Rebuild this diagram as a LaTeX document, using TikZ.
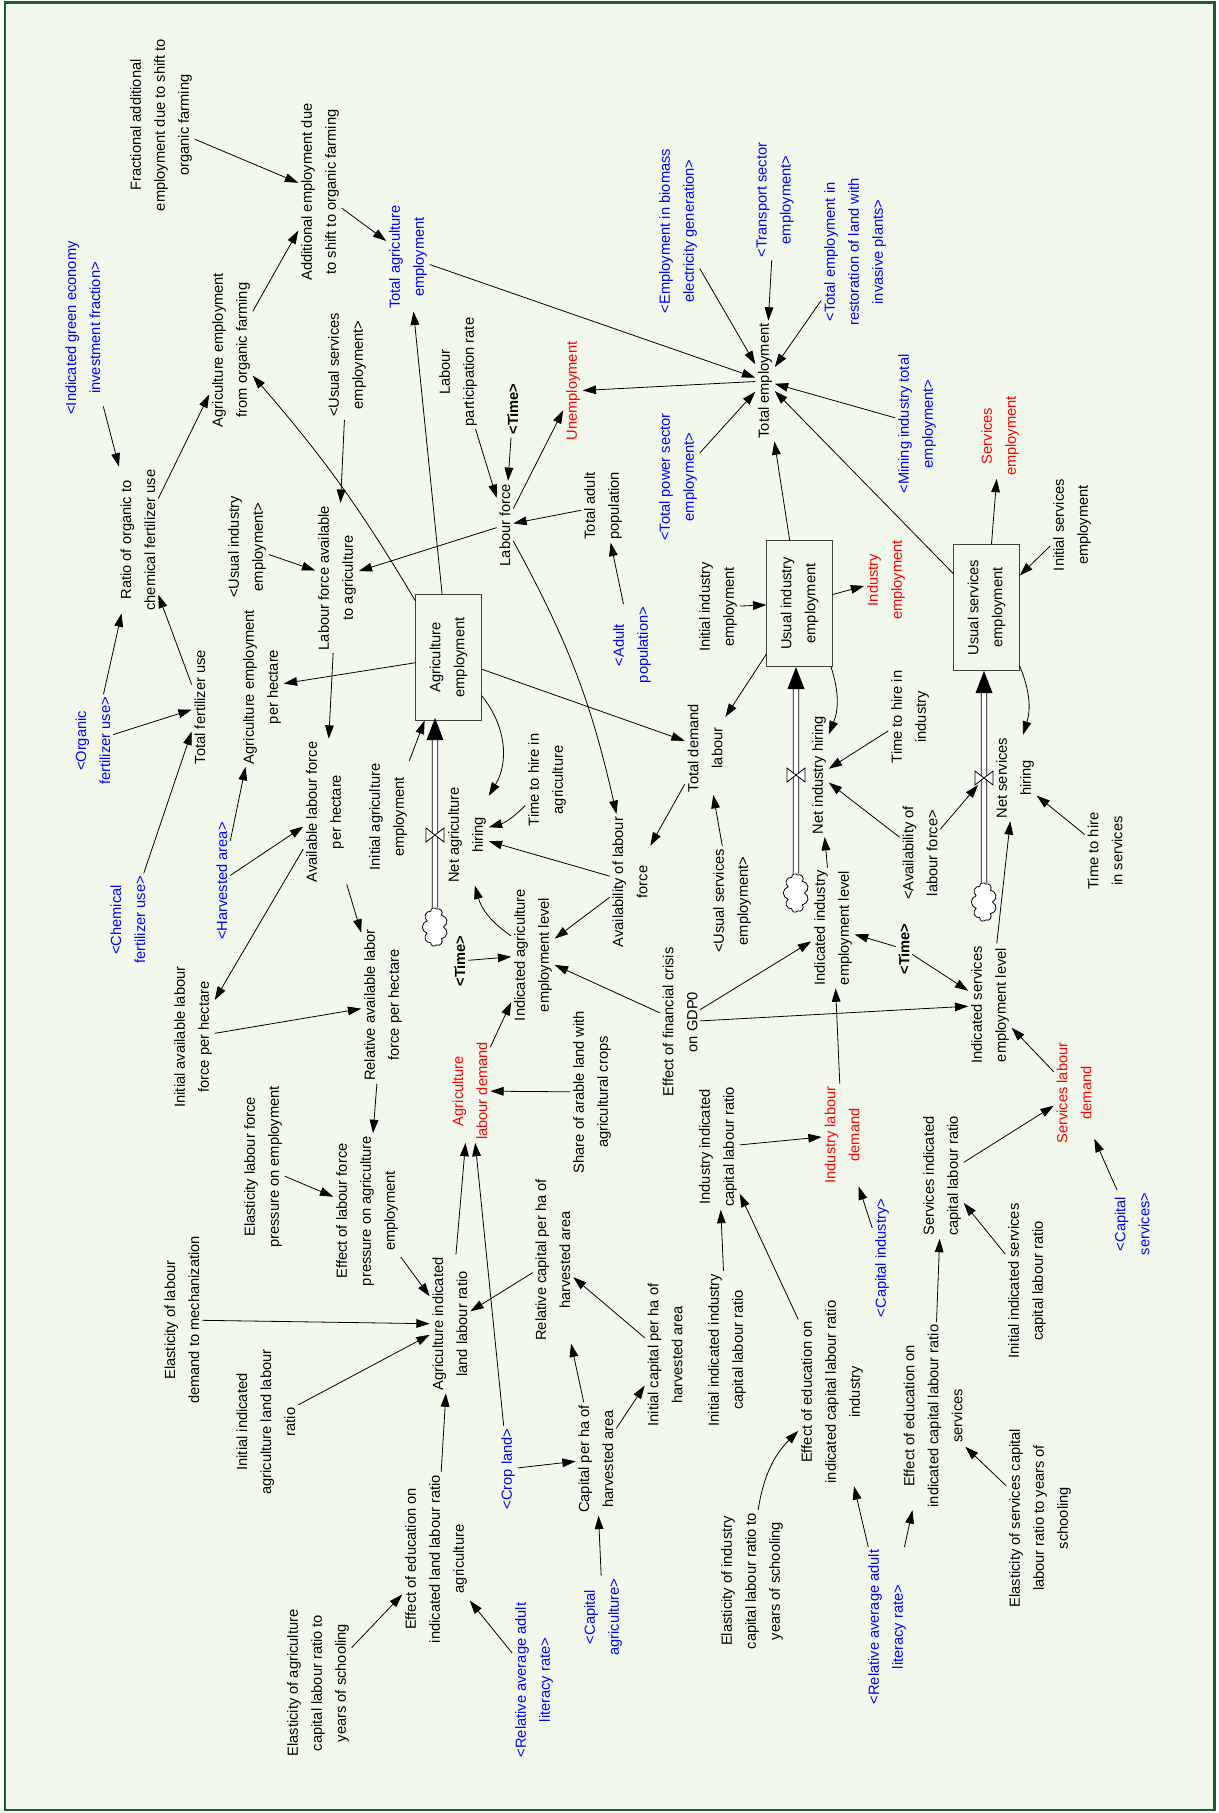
\documentclass[tikz,border=0pt]{standalone}
\usepackage{fontspec}
\setmainfont{Liberation Sans}
\usepackage{tikz}
\usetikzlibrary{arrows.meta,shapes.symbols}

\definecolor{bgpanel}{RGB}{243,248,237}
\definecolor{framegreen}{RGB}{25,95,45}
\definecolor{ghostblue}{RGB}{0,0,255}
\definecolor{keyred}{RGB}{255,0,0}

\begin{document}
\begin{tikzpicture}[
    x=0.75pt, y=-0.75pt,
    var/.style={rotate=90, align=center, inner sep=2pt, font=\fontsize{11}{18}\selectfont},
    ghost/.style={var, text=ghostblue},
    keyvar/.style={var, text=keyred},
    timevar/.style={var, font=\fontsize{11}{18}\selectfont\bfseries},
    stockbox/.style={var, draw=black!75, line width=0.7pt, minimum width=94pt, minimum height=49pt},
    cloudnode/.style={cloud, cloud puffs=9, cloud ignores aspect, draw, fill=white, rotate=90, minimum width=29pt, minimum height=19pt, inner sep=0pt, line width=0.6pt},
    valve/.style={inner sep=0pt, minimum width=13pt, minimum height=10pt},
    link/.style={line width=0.6pt, -{Triangle[length=10pt,width=6.5pt]}},
    pipe/.style={double=white, double distance=3.5pt, line width=0.6pt, shorten >=16pt}
]
    \useasboundingbox (0,0) rectangle (1219,1813);
    \draw[framegreen, fill=bgpanel, line width=1.9pt] (5,2.5) rectangle (1214.5,1810);

    \node[var] (frac) at (161,125) {Fractional additional\\employment due to shift to\\organic farming};
    \node[var] (addemp) at (320,192) {Additional employment due\\to shift to organic farming};
    \node[ghost] (totagri) at (408,257) {Total agriculture\\employment};
    \node[ghost] (greenfrac) at (83,328) {<Indicated green economy\\investment fraction>};
    \node[var] (orgfarm) at (231,350) {Agriculture employment\\from organic farming};
    \node[var] (usserva) at (347,365) {<Usual services\\employment>};
    \node[var] (lpr) at (458,372) {Labour\\participation rate};
    \node[timevar] (timea) at (513,409) {<Time>};
    \node[keyvar] (unemp) at (573,391) {Unemployment};
    \node[var] (totemp) at (765,381) {Total employment};
    \node[ghost] (biomass) at (678,231) {<Employment in biomass\\electricity generation>};
    \node[ghost] (transport) at (775,200) {<Transport sector\\employment>};
    \node[ghost] (restor) at (855,252) {<Total employment in\\restoration of land with\\invasive plants>};
    \node[ghost] (mining) at (917,424) {<Mining industry total\\employment>};
    \node[keyvar] (servemp) at (1000,436) {Services\\employment};
    \node[var] (ratio) at (138,540) {Ratio of organic to\\chemical fertilizer use};
    \node[ghost] (orgfert) at (93,741) {<Organic\\fertilizer use>};
    \node[var] (totfert) at (200,707) {Total fertilizer use};
    \node[ghost] (chemfert) at (128,920) {<Chemical\\fertilizer use>};
    \node[var] (usinda) at (247,547) {<Usual industry\\employment>};
    \node[var] (lfagri) at (337,578) {Labour force available\\to agriculture};
    \node[var] (lforce) at (505,525) {Labour force};
    \node[var] (empha) at (262,687) {Agriculture employment\\per hectare};
    \node[var] (avlfha) at (325,812) {Available labour force\\per hectare};
    \node[ghost] (harv) at (222,881) {<Harvested area>};
    \node[var] (initagri) at (388,817) {Initial agriculture\\employment};
    \node[stockbox] (agristock) at (448.5,657.5) {Agriculture\\employment};
    \node[var] (netagri) at (467,835) {Net agriculture\\hiring};
    \node[var] (thagri) at (547,780) {Time to hire in\\agriculture};
    \node[var] (avail) at (630,882) {Availability of labour\\force};
    \node[var] (totdem) at (705,748) {Total demand\\labour};
    \node[var] (tadult) at (603,506) {Total adult\\population};
    \node[ghost] (adultpop) at (632,645) {<Adult\\population>};
    \node[ghost] (power) at (678,477) {<Total power sector\\employment>};
    \node[var] (initind) at (718,607) {Initial industry\\employment};
    \node[stockbox] (indstock) at (799.5,603.5) {Usual industry\\employment};
    \node[keyvar] (indemp) at (886,580) {Industry\\employment};
    \node[var] (netind) at (819,775) {Net industry hiring};
    \node[var] (thind) at (910,717) {Time to hire in\\industry};
    \node[var] (availsh) at (920,853) {<Availability of\\labour force>};
    \node[var] (netserv) at (1015,778) {Net services\\hiring};
    \node[var] (thserv) at (1105,851) {Time to hire\\in services};
    \node[stockbox] (servstock) at (986.5,607.5) {Usual services\\employment};
    \node[var] (initserv) at (1072,525) {Initial services\\employment};
    \node[var] (initavlf) at (193,1037) {Initial available labour\\force per hectare};
    \node[var] (relavlf) at (383,1005) {Relative available labor\\force per hectare};
    \node[timevar] (timeb) at (460,961) {<Time>};
    \node[var] (indagri) at (533,955) {Indicated agriculture\\employment level};
    \node[keyvar] (agdem) at (470,1091) {Agriculture\\labour demand};
    \node[var] (share) at (592,1092) {Share of arable land with\\agricultural crops};
    \node[var] (fincrisis) at (680,1022) {Effect of financial crisis\\on GDP0};
    \node[var] (usservb) at (732,901) {<Usual services\\employment>};
    \node[var] (elaslf) at (263,1167) {Elasticity labour force\\pressure on employment};
    \node[var] (efflf) at (367,1211) {Effect of labour force\\pressure on agriculture\\employment};
    \node[var] (elasmech) at (182,1320) {Elasticity of labour\\demand to mechanization};
    \node[var] (agratio) at (450,1324) {Agriculture indicated\\land labour ratio};
    \node[var] (relcap) at (553,1260) {Relative capital per ha of\\harvested area};
    \node[var] (initagratio) at (266,1422) {Initial indicated\\agriculture land labour\\ratio};
    \node[var] (initcap) at (665,1355) {Initial capital per ha of\\harvested area};
    \node[var] (capha) at (596,1459) {Capital per ha of\\harvested area};
    \node[ghost] (cropland) at (508,1469) {<Crop land>};
    \node[var] (eduagri) at (436,1559) {Effect of education on\\indicated land labour ratio\\agriculture};
    \node[var] (elasagri) at (318,1683) {Elasticity of agriculture\\capital labour ratio to\\years of schooling};
    \node[ghost] (literacya) at (534,1680) {<Relative average adult\\literacy rate>};
    \node[ghost] (capagri) at (603,1617) {<Capital\\agriculture>};
    \node[var] (indratio) at (718,1147) {Industry indicated\\capital labour ratio};
    \node[keyvar] (inddem) at (842,1135) {Industry labour\\demand};
    \node[var] (initindratio) at (727,1350) {Initial indicated industry\\capital labour ratio};
    \node[var] (eduind) at (832,1392) {Effect of education on\\indicated capital labour ratio\\industry};
    \node[var] (elasind) at (752,1581) {Elasticity of industry\\capital labour ratio to\\years of schooling};
    \node[ghost] (literacyb) at (887,1627) {<Relative average adult\\literacy rate>};
    \node[ghost] (capind) at (882,1258) {<Capital industry>};
    \node[var] (servratio) at (942,1176) {Services indicated\\capital labour ratio};
    \node[var] (initservratio) at (1027,1281) {Initial indicated services\\capital labour ratio};
    \node[var] (eduserv) at (933,1416) {Effect of education on\\indicated capital labour ratio\\services};
    \node[var] (elasserv) at (1040,1518) {Elasticity of services capital\\labour ratio to years of\\schooling};
    \node[keyvar] (servdem) at (1074,1093) {Services labour\\demand};
    \node[ghost] (capserv) at (1132,1224) {<Capital\\services>};
    \node[var] (indserv) at (990,1005) {Indicated services\\employment level};
    \node[timevar] (timec) at (904,949) {<Time>};
    \node[var] (indind) at (833,928) {Indicated industry\\employment level};

    \node[cloudnode] (agricloud) at (435,927) {};
    \node[cloudnode] (indcloud) at (796,893) {};
    \node[cloudnode] (servcloud) at (984,902) {};
    \coordinate (agriflow) at (435,718);
    \coordinate (indflow) at (796,667);
    \coordinate (servflow) at (984,671);
    \draw[pipe] (agricloud) -- (agriflow);
    \draw[pipe] (indcloud) -- (indflow);
    \draw[pipe] (servcloud) -- (servflow);
    \fill (agriflow) -- ++(-8.5,22) -- ++(17,0) -- cycle;
    \fill (indflow) -- ++(-8.5,22) -- ++(17,0) -- cycle;
    \fill (servflow) -- ++(-8.5,22) -- ++(17,0) -- cycle;
    \node[valve] (agrivalve) at (435,835) {};
    \node[valve] (indvalve) at (796,775) {};
    \node[valve] (servvalve) at (984,778) {};
    \filldraw[fill=white, line width=0.6pt] (agrivalve.north west) -- (agrivalve.south east) -- (agrivalve.north east) -- (agrivalve.south west) -- cycle;
    \filldraw[fill=white, line width=0.6pt] (indvalve.north west) -- (indvalve.south east) -- (indvalve.north east) -- (indvalve.south west) -- cycle;
    \filldraw[fill=white, line width=0.6pt] (servvalve.north west) -- (servvalve.south east) -- (servvalve.north east) -- (servvalve.south west) -- cycle;

    \draw[link] (frac) -- (addemp);
    \draw[link] (addemp) -- (totagri);
    \draw[link] (orgfarm) -- (addemp);
    \draw[link] (agristock) to[bend right=5] (orgfarm);
    \draw[link] (greenfrac) -- (ratio);
    \draw[link] (ratio) -- (orgfarm);
    \draw[link] (orgfert) -- (ratio);
    \draw[link] (orgfert) -- (totfert);
    \draw[link] (totfert) -- (ratio);
    \draw[link] (chemfert) -- (totfert);
    \draw[link] (usinda) -- (lfagri);
    \draw[link] (usserva) -- (lfagri);
    \draw[link] (lforce) -- (lfagri);
    \draw[link] (lfagri) -- (avlfha);
    \draw[link] (agristock) -- (empha);
    \draw[link] (harv) -- (empha);
    \draw[link] (harv) -- (avlfha);
    \draw[link] (avlfha) -- (initavlf);
    \draw[link] (avlfha) -- (relavlf);
    \draw[link] (initavlf) -- (relavlf);
    \draw[link] (initagri) -- (agristock);
    \draw[link] (agristock) -- (totagri);
    \draw[link] (totagri) -- (totemp);
    \draw[link] (totemp) -- (unemp);
    \draw[link] (biomass) -- (totemp);
    \draw[link] (transport) -- (totemp);
    \draw[link] (restor) -- (totemp);
    \draw[link] (mining) -- (totemp);
    \draw[link] (servstock) -- (totemp);
    \draw[link] (power) -- (totemp);
    \draw[link] (indstock) -- (totemp);
    \draw[link] (lpr) -- (lforce);
    \draw[link] (timea) -- (lforce);
    \draw[link] (lforce) -- (unemp);
    \draw[link] (tadult) -- (lforce);
    \draw[link] (adultpop) -- (tadult);
    \draw[link] (lforce) to[bend left=8] (avail);
    \draw[link] (agristock) to[bend left=35] (netagri);
    \draw[link] (thagri) to[bend left=15] (netagri);
    \draw[link] (avail) -- (netagri);
    \draw[link] (agristock) -- (totdem);
    \draw[link] (totdem) -- (avail);
    \draw[link] (indstock) -- (totdem);
    \draw[link] (usservb) -- (totdem);
    \draw[link] (initind) -- (indstock);
    \draw[link] (indstock) -- (indemp);
    \draw[link] (indstock) to[bend left=20] (netind);
    \draw[link] (thind) -- (netind);
    \draw[link] (availsh) -- (netind);
    \draw[link] (availsh) -- (servvalve);
    \draw[link] (servstock) -- (servemp);
    \draw[link] (initserv) -- (servstock);
    \draw[link] (servstock) to[bend left=20] (netserv);
    \draw[link] (thserv) -- (netserv);
    \draw[link] (indserv) -- (netserv);
    \draw[link] (indind) -- (netind);
    \draw[link] (relavlf) -- (efflf);
    \draw[link] (elaslf) -- (efflf);
    \draw[link] (efflf) -- (agratio);
    \draw[link] (elasmech) -- (agratio);
    \draw[link] (initagratio) -- (agratio);
    \draw[link] (relcap) -- (agratio);
    \draw[link] (eduagri) -- (agratio);
    \draw[link] (agratio) -- (agdem);
    \draw[link] (cropland) -- (agdem);
    \draw[link] (share) -- (agdem);
    \draw[link] (agdem) -- (indagri);
    \draw[link] (timeb) -- (indagri);
    \draw[link] (avail) -- (indagri);
    \draw[link] (fincrisis) -- (indagri);
    \draw[link] (indagri) to[bend left=20] (netagri);
    \draw[link] (fincrisis) -- (indind);
    \draw[link] (fincrisis) -- (indserv);
    \draw[link] (timec) -- (indind);
    \draw[link] (timec) -- (indserv);
    \draw[link] (inddem) -- (indind);
    \draw[link] (servdem) -- (indserv);
    \draw[link] (indratio) -- (inddem);
    \draw[link] (capind) -- (inddem);
    \draw[link] (initindratio) -- (indratio);
    \draw[link] (eduind) -- (indratio);
    \draw[link] (servratio) -- (servdem);
    \draw[link] (capserv) -- (servdem);
    \draw[link] (initservratio) -- (servratio);
    \draw[link] (eduserv) -- (servratio);
    \draw[link] (initcap) -- (relcap);
    \draw[link] (capha) -- (relcap);
    \draw[link] (capha) -- (initcap);
    \draw[link] (cropland) -- (capha);
    \draw[link] (capagri) -- (capha);
    \draw[link] (elasagri) -- (eduagri);
    \draw[link] (literacya) -- (eduagri);
    \draw[link] (elasind) to[bend left=18] (eduind);
    \draw[link] (literacyb) -- (eduind);
    \draw[link] (literacyb) -- (eduserv);
    \draw[link] (elasserv) -- (eduserv);
\end{tikzpicture}
\end{document}
